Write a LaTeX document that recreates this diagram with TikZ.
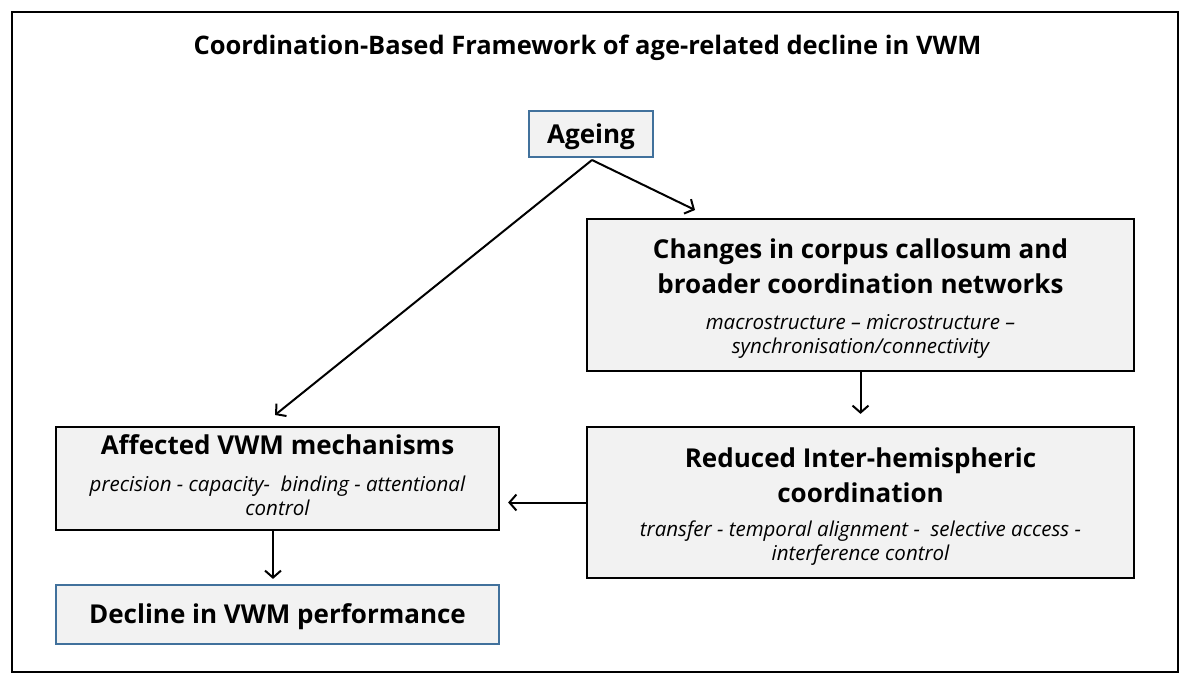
\documentclass[tikz,border=0pt]{standalone}
\usepackage{fontspec}
\setmainfont{Open Sans}
\usetikzlibrary{arrows.meta}
\definecolor{boxgray}{HTML}{F2F2F2}
\definecolor{boxblue}{HTML}{41719C}
\newcommand{\subfont}{\fontsize{20.5}{23}\selectfont\mdseries\itshape}
\newcommand{\topgap}{\rule{0pt}{27pt}}
\newcommand{\botgap}{\rule[-7pt]{0pt}{7pt}}
\begin{document}
\begin{tikzpicture}[x=1pt,y=-1pt,
  box/.style={draw,fill=boxgray,line width=1.8pt,align=flush center,inner sep=0pt,
    font=\fontsize{26}{35}\selectfont\bfseries},
  keybox/.style={box,draw=boxblue,line width=1.4pt,text height=22pt,text depth=4pt},
  flow/.style={-{Straight Barb[length=7pt,width=16pt]},line width=2pt}]

%Frame
\useasboundingbox (0,0) rectangle (1190,683);
\draw [line width=2.4pt] (12,12) rectangle (1178,672);

%Title
\node (title) at (587.5,48) {\fontsize{25.5}{30}\selectfont\bfseries Coordination-Based Framework of age-related decline in VWM};

%Boxes
\node [keybox,minimum width=124,minimum height=46] (ageing) at (591,134) {Ageing};
\node [box,minimum width=547,minimum height=152,text width=530] (changes) at (860.5,295)
  {\topgap Changes in corpus callosum and\\ broader coordination networks\\[1pt]
   {\subfont macrostructure -- microstructure --}\\[-11pt]
   {\subfont synchronisation/connectivity}};
\node [box,minimum width=547,minimum height=151,text width=530] (reduced) at (860.5,502.5)
  {\topgap Reduced Inter-hemispheric\\ coordination\\[-1pt]
   {\subfont transfer - temporal alignment -\ \ selective access -}\\[-11pt]
   {\subfont interference control}};
\node [box,minimum width=443,minimum height=103,text width=430] (affected) at (277.5,478.5)
  {Affected VWM mechanisms\\[2pt]
   {\subfont precision - capacity-\ \ binding - attentional}\\[-11pt]
   {\subfont control\botgap}};
\node [keybox,minimum width=443,minimum height=59] (decline) at (277.5,614.5) {Decline in VWM performance};

%Arrows
\coordinate (split) at (592,160);
\coordinate (hitA) at (275,415);
\coordinate (hitC) at (695,210);
\draw [flow] (split) -- (hitA);
\draw [flow] (split) -- (hitC);
\draw [flow] (changes.south) -- ++(0,42);
\draw [flow] (reduced.west) -- ++(-78,0);
\draw [flow] (affected.south -| 273,0) -- ++(0,48);
\end{tikzpicture}
\end{document}
